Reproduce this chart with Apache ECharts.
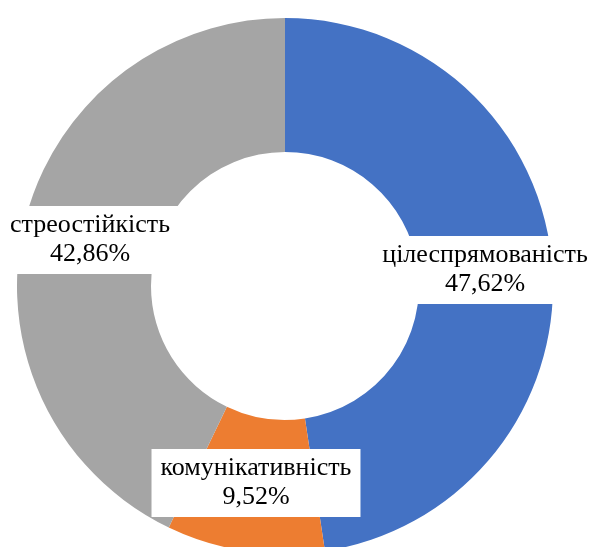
<!DOCTYPE html>
<html>
<head>
<meta charset="utf-8">
<script src="https://cdn.jsdelivr.net/npm/echarts@6/dist/echarts.min.js"></script>
<style>
  html, body { margin: 0; padding: 0; background: #fff; }
  #main { width: 592px; height: 547px; }
</style>
</head>
<body>
<div id="main"></div>
<script>
// дані діаграми
var categories = ['цілеспрямованість', 'комунікативність', 'стреостійкість'];
var values = [47.62, 9.52, 42.86];
var colors = ['#4472C4', '#ED7D31', '#A5A5A5'];

// розміщення підписів (центр блоку)
var labelPos = [[485, 270], [256, 483], [90, 240]];

var myChart = echarts.init(document.getElementById('main'));

var option = {
  animation: false,
  series: [
    {
      type: 'pie',
      center: [285, 286],
      radius: [134, 268],
      startAngle: 90,
      clockwise: true,
      data: categories.map(function (name, i) {
        return { name: name, value: values[i], itemStyle: { color: colors[i] } };
      }),
      label: {
        show: true,
        position: 'inside',
        formatter: function (p) {
          return p.name + '\n' + p.value.toFixed(2).replace('.', ',') + '%';
        },
        fontFamily: 'Liberation Serif',
        fontSize: 26,
        lineHeight: 29,
        color: '#000',
        backgroundColor: '#fff',
        padding: [5, 9, 5, 9],
        align: 'center'
      },
      labelLine: { show: false },
      labelLayout: function (params) {
        var p = labelPos[params.dataIndex];
        return { x: p[0], y: p[1], align: 'center', verticalAlign: 'middle' };
      },
      emphasis: { disabled: true }
    }
  ]
};

myChart.setOption(option);
</script>
</body>
</html>
